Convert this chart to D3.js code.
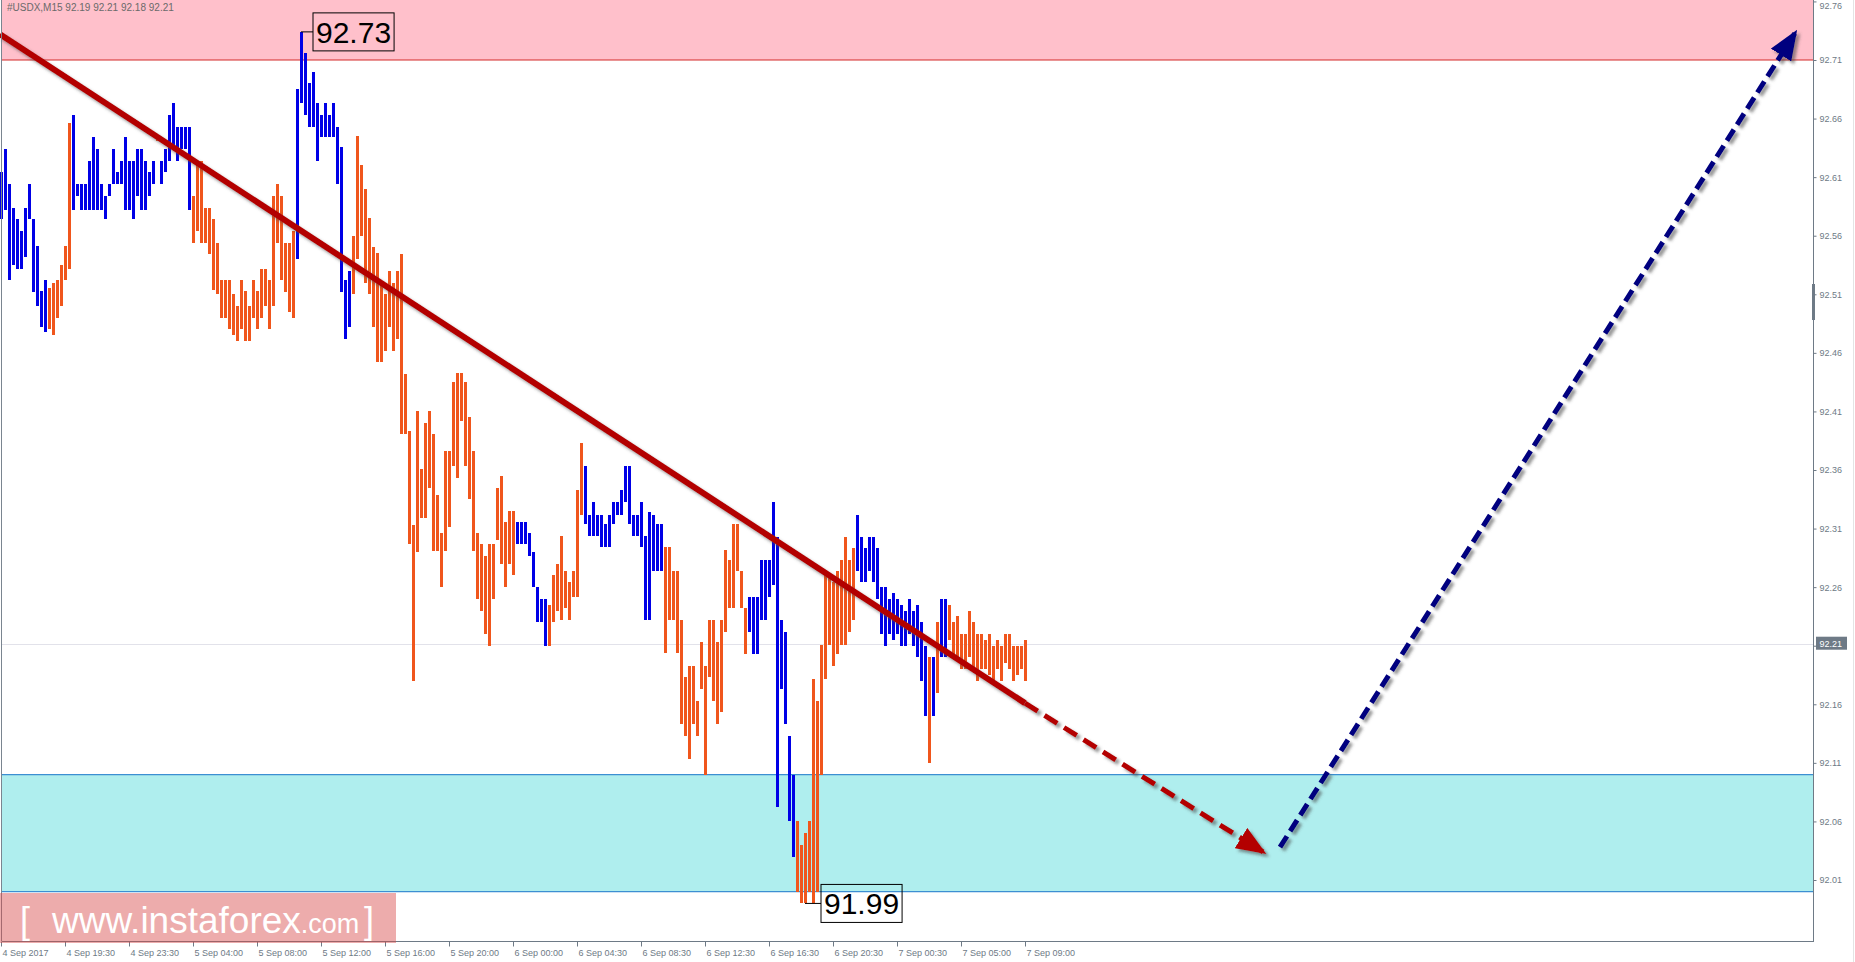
<!DOCTYPE html>
<html>
<head>
<meta charset="utf-8">
<script src="https://cdn.jsdelivr.net/npm/d3@7"></script>
<style>
  html, body { margin: 0; padding: 0; background: #ffffff; }
  svg { display: block; }
  .axis text { font-family: "Liberation Sans", Arial, sans-serif; font-size: 9px; fill: #6e7a86; }
</style>
</head>
<body>
<script>
// ---------------- DATA ----------------
const symbolTitle = "#USDX,M15  92.19 92.21 92.18 92.21";
const lastPrice = 92.21;
const highLabel = "92.73";
const lowLabel = "91.99";
const highBarIndex = 75;
const lowBarIndex = 201;

// M15 bar highs
const barHigh = [
92.614,92.634,92.604,92.584,92.574,92.564,92.584,92.604,92.574,92.551,
92.513,92.522,92.515,92.520,92.522,92.535,92.551,92.656,92.663,92.604,
92.604,92.604,92.624,92.644,92.634,92.604,92.594,92.604,92.634,92.614,
92.624,92.644,92.624,92.624,92.634,92.634,92.624,92.614,92.624,92.645,
92.624,92.634,92.663,92.673,92.653,92.653,92.653,92.653,92.594,92.624,
92.624,92.584,92.584,92.574,92.554,92.522,92.522,92.522,92.510,92.500,
92.522,92.513,92.500,92.522,92.513,92.532,92.532,92.522,92.594,92.604,
92.594,92.554,92.554,92.564,92.685,92.734,92.716,92.690,92.700,92.673,
92.663,92.673,92.663,92.673,92.653,92.636,92.522,92.530,92.560,92.645,
92.620,92.600,92.575,92.550,92.545,92.520,92.510,92.530,92.520,92.530,
92.544,92.442,92.393,92.313,92.410,92.361,92.400,92.410,92.391,92.339,
92.306,92.376,92.376,92.435,92.443,92.443,92.435,92.405,92.376,92.306,
92.297,92.287,92.297,92.297,92.345,92.355,92.316,92.325,92.325,92.316,
92.316,92.316,92.306,92.290,92.260,92.250,92.250,92.245,92.270,92.280,
92.304,92.274,92.264,92.274,92.343,92.383,92.363,92.322,92.333,92.322,
92.322,92.314,92.322,92.333,92.333,92.343,92.363,92.363,92.322,92.322,
92.333,92.304,92.324,92.322,92.314,92.314,92.294,92.294,92.274,92.274,
92.232,92.183,92.193,92.193,92.163,92.213,92.193,92.232,92.232,92.213,
92.232,92.292,92.283,92.314,92.314,92.274,92.242,92.252,92.252,92.252,
92.283,92.283,92.283,92.333,92.303,92.232,92.222,92.133,92.100,92.060,
92.040,92.050,92.060,92.182,92.163,92.211,92.272,92.272,92.264,92.274,
92.283,92.303,92.283,92.293,92.322,92.303,92.293,92.303,92.303,92.293,
92.260,92.260,92.250,92.255,92.250,92.245,92.240,92.250,92.240,92.245,
92.230,92.210,92.200,92.200,92.230,92.250,92.250,92.245,92.230,92.235,
92.220,92.220,92.240,92.230,92.220,92.220,92.215,92.220,92.210,92.215,
92.210,92.220,92.220,92.210,92.210,92.210,92.215
];

// M15 bar lows
const barLow = [
92.574,92.582,92.522,92.535,92.532,92.532,92.542,92.574,92.512,92.500,
92.482,92.478,92.480,92.475,92.490,92.500,92.522,92.532,92.582,92.594,
92.582,92.582,92.582,92.582,92.582,92.582,92.574,92.594,92.604,92.604,
92.604,92.582,92.582,92.574,92.594,92.582,92.582,92.594,92.604,92.641,
92.604,92.614,92.624,92.634,92.624,92.634,92.634,92.582,92.554,92.564,
92.554,92.554,92.544,92.514,92.510,92.490,92.490,92.480,92.475,92.470,
92.480,92.470,92.470,92.490,92.480,92.490,92.500,92.480,92.500,92.554,
92.522,92.512,92.495,92.490,92.540,92.673,92.663,92.653,92.653,92.624,
92.644,92.644,92.644,92.644,92.604,92.512,92.472,92.482,92.510,92.540,
92.560,92.520,92.510,92.482,92.452,92.452,92.462,92.482,92.462,92.472,
92.391,92.391,92.297,92.180,92.290,92.319,92.319,92.345,92.291,92.291,
92.260,92.291,92.311,92.363,92.353,92.402,92.363,92.335,92.291,92.250,
92.240,92.220,92.210,92.250,92.300,92.280,92.260,92.280,92.270,92.297,
92.297,92.297,92.287,92.260,92.230,92.230,92.210,92.210,92.230,92.240,
92.232,92.242,92.232,92.252,92.252,92.322,92.314,92.304,92.304,92.304,
92.294,92.294,92.294,92.314,92.322,92.322,92.333,92.314,92.304,92.304,
92.294,92.232,92.232,92.274,92.274,92.274,92.204,92.232,92.232,92.204,
92.143,92.133,92.113,92.143,92.133,92.173,92.100,92.183,92.163,92.143,
92.153,92.222,92.242,92.242,92.274,92.242,92.203,92.222,92.203,92.203,
92.232,92.232,92.252,92.262,92.072,92.173,92.143,92.060,92.030,92.000,
91.990,91.990,92.000,91.990,92.000,92.100,92.182,92.211,92.193,92.203,
92.211,92.211,92.222,92.232,92.274,92.264,92.264,92.274,92.264,92.250,
92.220,92.210,92.220,92.215,92.220,92.210,92.210,92.220,92.210,92.200,
92.180,92.150,92.110,92.150,92.170,92.200,92.200,92.215,92.200,92.200,
92.190,92.190,92.200,92.190,92.180,92.190,92.190,92.185,92.180,92.190,
92.180,92.195,92.190,92.180,92.185,92.190,92.180
];

// wave colour of each bar: b = rising wave (blue), o = falling wave (orange)
const barWave = (
"bbbbbbbbbbbboooooobbbbbbbbbbbbbbbbbbbbbobbbbbbbboooooooooooooooooooooooooo" +
"bbbbbbbbbbbbbbooooooooooooooooooooooooooooooooooooooooobbbbbbbbooooooooo" +
"bbbbbbbbbbbbbbbbbbbbooooooooooooooooooooobbbbbbbbbbbbooooooooooooooobbbbbbbbbbbb" +
"bbbbbbobobbooooooooooooooooooooooooooo"
).split("");

// time axis (bar index of each label)
const timeTickIndex = [0,16,32,48,64,80,96,112,128,144,160,176,192,208,224,240,256];
const timeTickLabels = ["4 Sep 2017","4 Sep 19:30","4 Sep 23:30","5 Sep 04:00","5 Sep 08:00",
  "5 Sep 12:00","5 Sep 16:00","5 Sep 20:00","6 Sep 00:00","6 Sep 04:30","6 Sep 08:30",
  "6 Sep 12:30","6 Sep 16:30","6 Sep 20:30","7 Sep 00:30","7 Sep 05:00","7 Sep 09:00"];

// price axis ticks
const priceTicks = [92.01,92.06,92.11,92.16,92.21,92.26,92.31,92.36,92.41,92.46,92.51,92.56,92.61,92.66,92.71,92.76];

// zones
const resistanceZone = [92.71, 92.80];
const supportZone = [92.00, 92.10];

// analysis lines (bar index, price)
const redTrend = [[-0.25, 92.732], [256, 92.161]];
const redForecast = [[256, 92.161], [315.5, 92.034]];
const blueForecast = [[319.75, 92.038], [448.5, 92.733]];

// ---------------- DRAW ----------------
const W = 1855, H = 962;
const plotLeft = 2, plotRight = 1813, plotBottom = 941;

const svg = d3.select("body").append("svg").attr("width", W).attr("height", H);

const x = d3.scaleLinear().domain([0, 452]).range([1, 1809]);
const y = d3.scaleLinear().domain([92.01, 92.71]).range([880, 60]);

const defs = svg.append("defs");
const sh = defs.append("filter").attr("id", "shadow").attr("x", "-20%").attr("y", "-20%").attr("width", "140%").attr("height", "140%");
sh.append("feDropShadow").attr("dx", 3).attr("dy", 3).attr("stdDeviation", 1.6)
  .attr("flood-color", "#444").attr("flood-opacity", 0.55);

function arrowMarker(id, color) {
  defs.append("marker").attr("id", id)
    .attr("markerUnits", "userSpaceOnUse")
    .attr("markerWidth", 30).attr("markerHeight", 24)
    .attr("refX", 26).attr("refY", 12).attr("orient", "auto")
    .append("path").attr("d", "M0,0 L30,12 L0,24 Z").attr("fill", color);
}
arrowMarker("arrRed", "#b30000");
arrowMarker("arrBlue", "#00007f");

// zones
svg.append("rect").attr("x", plotLeft).attr("width", plotRight - plotLeft)
  .attr("y", 0).attr("height", y(resistanceZone[0]))
  .attr("fill", "#ffc0cb");
svg.append("line").attr("x1", plotLeft).attr("x2", plotRight)
  .attr("y1", y(resistanceZone[0])).attr("y2", y(resistanceZone[0]))
  .attr("stroke", "#d42a2a").attr("stroke-width", 1.2);

svg.append("rect").attr("x", plotLeft).attr("width", plotRight - plotLeft)
  .attr("y", y(supportZone[1])).attr("height", y(supportZone[0]) - y(supportZone[1]))
  .attr("fill", "#afeeee");
[supportZone[0], supportZone[1]].forEach(v => {
  svg.append("line").attr("x1", plotLeft).attr("x2", plotRight)
    .attr("y1", y(v)).attr("y2", y(v))
    .attr("stroke", "#3c8fd2").attr("stroke-width", 1.2);
});

// current price line
svg.append("line").attr("x1", plotLeft).attr("x2", plotRight)
  .attr("y1", Math.round(y(lastPrice)) - 1.5).attr("y2", Math.round(y(lastPrice)) - 1.5)
  .attr("stroke", "#e2e2ea").attr("stroke-width", 1);

// title
svg.append("text").attr("x", 7).attr("y", 11)
  .attr("font-family", "Liberation Sans, Arial, sans-serif").attr("font-size", 10)
  .attr("fill", "#6a6a6a").text(symbolTitle);

// bars
const bars = barHigh.map((h, i) => ({ i, h, l: barLow[i], w: barWave[i] || "o" }));
svg.append("g").selectAll("rect").data(bars).join("rect")
  .attr("x", d => Math.round(x(d.i)) - 1)
  .attr("width", 3)
  .attr("y", d => y(d.h))
  .attr("height", d => Math.max(2, y(d.l) - y(d.h)))
  .attr("fill", d => d.w === "b" ? "#0000e6" : "#f0561c")
  .attr("shape-rendering", "crispEdges");

// high / low labels
function extremeLabel(idx, price, text, boxX) {
  const yy = y(price);
  svg.append("line").attr("x1", x(idx)).attr("x2", boxX).attr("y1", yy).attr("y2", yy)
    .attr("stroke", "#000").attr("stroke-width", 1);
  const t = svg.append("text").attr("x", boxX + 3).attr("y", yy + 11)
    .attr("font-family", "Liberation Sans, Arial, sans-serif").attr("font-size", 30)
    .attr("fill", "#000").text(text);
  const bb = t.node().getBBox();
  svg.insert("rect", "text:last-of-type")
    .attr("x", boxX).attr("y", yy - 19).attr("width", bb.width + 6).attr("height", 38)
    .attr("fill", "none").attr("stroke", "#000").attr("stroke-width", 1);
}
extremeLabel(highBarIndex, barHigh[highBarIndex], highLabel, 313);
extremeLabel(lowBarIndex, barLow[lowBarIndex], lowLabel, 821);

// analysis lines
const lineGen = d3.line().x(d => x(d[0])).y(d => y(d[1]));
const ana = svg.append("g").attr("filter", "url(#shadow)");
ana.append("path").attr("d", lineGen(redTrend))
  .attr("fill", "none").attr("stroke", "#b30000").attr("stroke-width", 6);
ana.append("path").attr("d", lineGen(redForecast))
  .attr("fill", "none").attr("stroke", "#b30000").attr("stroke-width", 5)
  .attr("stroke-dasharray", "15,8").attr("marker-end", "url(#arrRed)");
ana.append("path").attr("d", lineGen(blueForecast))
  .attr("fill", "none").attr("stroke", "#00007f").attr("stroke-width", 5)
  .attr("stroke-dasharray", "13,6").attr("marker-end", "url(#arrBlue)");

// frame
svg.append("line").attr("x1", 1.5).attr("x2", 1.5).attr("y1", 0).attr("y2", plotBottom)
  .attr("stroke", "#7a8590").attr("stroke-width", 1);
svg.append("line").attr("x1", 1853.5).attr("x2", 1853.5).attr("y1", 0).attr("y2", H)
  .attr("stroke", "#e4e4e4").attr("stroke-width", 1);

// current price tag (drawn under the axis so the 92.21 tick label sits on it)
const tagY = y(lastPrice);
svg.append("rect").attr("x", plotRight + 3).attr("y", tagY - 9).attr("width", 31).attr("height", 13).attr("fill", "#6e7a86");

// right price axis
const yAxis = d3.axisRight(y).tickValues(priceTicks).tickFormat(d3.format(".2f"))
  .tickSize(3).tickPadding(3);
const gy = svg.append("g").attr("class", "axis").attr("transform", `translate(${plotRight + 0.5},0)`).call(yAxis);
gy.select(".domain").remove();
gy.selectAll(".tick line").attr("stroke", "#6e7a86");
gy.selectAll(".tick text").filter(d => Math.abs(d - lastPrice) < 1e-6)
  .style("fill", "#ffffff").attr("dy", "0.1em");
// keep the topmost label inside the picture
gy.selectAll(".tick text").filter(d => y(d) < 6).attr("dy", "0.75em");
svg.append("line").attr("x1", plotRight + 0.5).attr("x2", plotRight + 0.5).attr("y1", 0).attr("y2", plotBottom)
  .attr("stroke", "#6e7a86").attr("stroke-width", 1);
svg.append("rect").attr("x", plotRight - 1).attr("y", 284).attr("width", 3).attr("height", 36).attr("fill", "#6e7a86");

// bottom time axis
const xAxis = d3.axisBottom(x).tickValues(timeTickIndex)
  .tickFormat((d, i) => timeTickLabels[i]).tickSize(5).tickPadding(3);
const gx = svg.append("g").attr("class", "axis").attr("transform", `translate(0,${plotBottom + 0.5})`).call(xAxis);
gx.select(".domain").remove();
gx.selectAll(".tick line").attr("stroke", "#6e7a86");
gx.selectAll(".tick text").attr("text-anchor", "start").attr("dx", 1);
svg.append("line").attr("x1", plotLeft).attr("x2", plotRight + 1).attr("y1", plotBottom + 0.5).attr("y2", plotBottom + 0.5)
  .attr("stroke", "#6e7a86").attr("stroke-width", 1);

// watermark
const wm = svg.append("g");
wm.append("rect").attr("x", 0).attr("y", 893).attr("width", 396).attr("height", 50)
  .attr("fill", "rgba(214,70,70,0.45)");
const wt = wm.append("text").attr("y", 933).attr("fill", "#ffffff")
  .attr("font-family", "Liberation Sans, Arial, sans-serif");
wt.append("tspan").attr("x", 20).attr("font-size", 36).text("[");
wt.append("tspan").attr("x", 52).attr("font-size", 37).text("www.instaforex");
wt.append("tspan").attr("font-size", 27).text(".com");
wt.append("tspan").attr("x", 364).attr("font-size", 36).text("]");
</script>
</body>
</html>
